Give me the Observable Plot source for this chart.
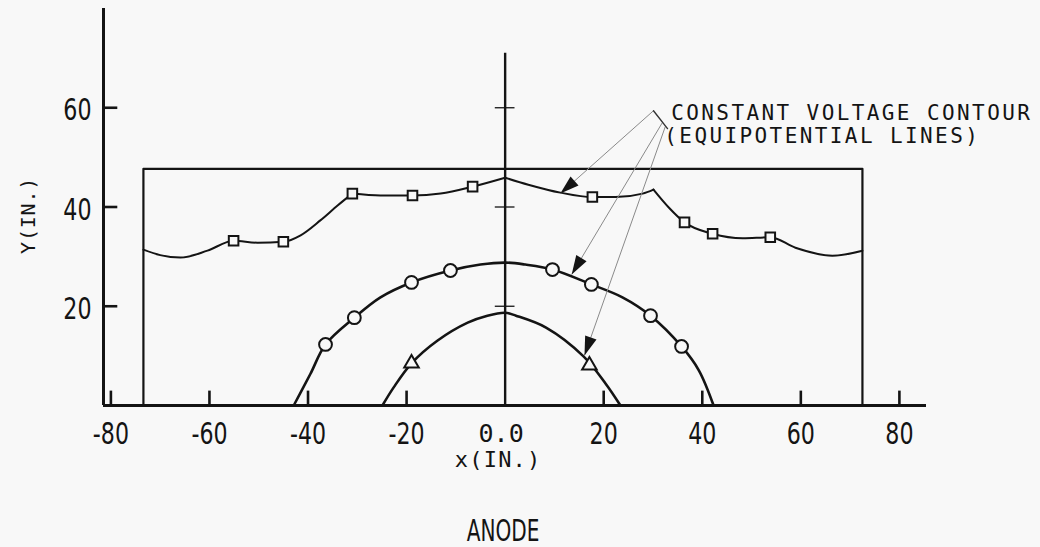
<!DOCTYPE html>
<html>
<head>
<meta charset="utf-8">
<script src="https://cdn.jsdelivr.net/npm/d3@7"></script>
<script src="https://cdn.jsdelivr.net/npm/@observablehq/plot@0.6"></script>
<style>
  html, body { margin: 0; padding: 0; background: #f8f8f8; }
</style>
</head>
<body>
<div id="chart"></div>
<script>
// ---- data ----
const xDomain = [-81.5, 85.5];
const yDomain = [0, 80];
const xTicks = [-80, -60, -40, -20, 20, 40, 60, 80];
const yTicks = [20, 40, 60];
const centerCrossY = [20, 40, 60];

// enclosing electrode box (open at bottom, the x axis closes it)
const boxOutline = [[-73.4, 0], [-73.4, 47.7], [72.5, 47.7], [72.5, 0]];

// outer contour (squares), drawn in four smooth pieces joined at cusps
const squareSegA = [[-73.4, 31.4], [-70.0, 30.3], [-65.9, 29.8], [-60.4, 31.2], [-55.1, 33.2], [-50.25, 32.8], [-45.0, 33.0], [-41.5, 34.3], [-37.5, 37.3], [-34.0, 40.3], [-31.0, 42.7]];
const squareSegB = [[-31.0, 42.7], [-25.3, 42.3], [-18.8, 42.3], [-13.1, 42.7], [-6.6, 44.1], [0, 45.9]];
const squareSegC = [[0, 45.9], [4.7, 44.5], [11.2, 42.9], [17.7, 42.0], [22.4, 42.0], [27.9, 42.7], [30.1, 43.5]];
const squareSegD = [[30.1, 43.5], [33.2, 39.9], [36.4, 36.9], [42.1, 34.6], [48.2, 33.7], [53.8, 33.9], [58.9, 31.8], [66.4, 30.2], [72.5, 31.2]];
const squareMarkers = [[-55.1, 33.2], [-45.0, 33.0], [-31.0, 42.7], [-18.8, 42.3], [-6.6, 44.1], [17.7, 42.0], [36.4, 36.9], [42.1, 34.6], [53.8, 33.9]];

// middle contour (circles)
const circleCurve = [[-42.9, 0], [-39.5, 6.4], [-36.45, 12.3], [-30.6, 17.7], [-25.3, 21.8], [-19.0, 24.8], [-11.1, 27.2], [-5.0, 28.4], [0, 28.8], [4.1, 28.4], [9.6, 27.4], [17.5, 24.4], [23.8, 21.8], [29.5, 18.1], [35.8, 11.9], [39.3, 7.1], [42.3, 0]];
const circleMarkers = [[-36.45, 12.3], [-30.6, 17.7], [-19.0, 24.8], [-11.1, 27.2], [9.6, 27.4], [17.5, 24.4], [29.5, 18.1], [35.8, 11.9]];

// inner contour (triangles)
const triangleCurve = [[-24.9, 0], [-22.65, 3.6], [-19.0, 8.5], [-13.7, 13.1], [-7.6, 16.7], [-3.6, 18.1], [0, 18.7], [2.2, 18.1], [8.3, 15.7], [15.9, 9.9], [20.4, 4.4], [23.4, 0]];
const triangleMarkers = [[-19.0, 8.5], [17.1, 8.1]];

// annotation leader lines
const leaderStarts = [[30.1, 59.4], [31.9, 57.0], [32.5, 56.2]];
const leaderTips = [[11.2, 42.7], [13.5, 26.4], [16.1, 10.1]];
const leaderBracket = [[30.1, 59.4], [32.95, 55.8]];

const annotationLines = ["CONSTANT VOLTAGE CONTOUR", "(EQUIPOTENTIAL LINES)"];
const annotationPos = [[33.7, 57.6], [32.3, 52.8]];

// ---- styling ----
const ink = "#141414";
const bg = "#f8f8f8";
const narrow = "'Liberation Sans Narrow', 'DejaVu Sans Condensed', sans-serif";
const mono = "'DejaVu Sans Mono', monospace";

const W = 1040, H = 547;
const mL = 103, mR = 114, mT = 8, mB = 142;

// pixel mapping mirroring the Plot scales, used only for arrowhead angles
const xs = d3.scaleLinear(xDomain, [mL, W - mR]);
const ys = d3.scaleLinear(yDomain, [H - mB, mT]);

const squarePath = [
  ...squareSegA.map(p => ({x: p[0], y: p[1], seg: "A"})),
  ...squareSegB.map(p => ({x: p[0], y: p[1], seg: "B"})),
  ...squareSegC.map(p => ({x: p[0], y: p[1], seg: "C"})),
  ...squareSegD.map(p => ({x: p[0], y: p[1], seg: "D"}))
];

const leaders = leaderStarts.map((s, i) => {
  const t = leaderTips[i];
  const dx = xs(t[0]) - xs(s[0]);
  const dy = ys(t[1]) - ys(s[1]);
  return {x1: s[0], y1: s[1], x2: t[0], y2: t[1], angle: Math.atan2(dx, -dy) * 180 / Math.PI};
});

// filled wedge arrowhead, tip at the origin, pointing up before rotation
const wedge = {
  draw(context) {
    context.moveTo(0, 0);
    context.lineTo(6, 19);
    context.lineTo(-6, 19);
    context.closePath();
  }
};

const px = d => d[0], py = d => d[1];

const plot = Plot.plot({
  width: W,
  height: H,
  marginLeft: mL,
  marginRight: mR,
  marginTop: mT,
  marginBottom: mB,
  x: {domain: xDomain, axis: null},
  y: {domain: yDomain, axis: null},
  style: {background: bg, color: ink, overflow: "visible"},
  marks: [
    // box
    Plot.line(boxOutline, {x: px, y: py, stroke: ink, strokeWidth: 2.2, curve: "linear"}),
    // center line with crosses
    Plot.ruleX([0], {y1: 0, y2: 71, stroke: ink, strokeWidth: 2.4}),
    Plot.ruleY(centerCrossY, {x1: -2, x2: 2, stroke: ink, strokeWidth: 1.3}),
    // contours
    Plot.line(squarePath, {x: "x", y: "y", z: "seg", curve: "monotone-x", stroke: ink, strokeWidth: 2}),
    Plot.line(circleCurve, {x: px, y: py, curve: "catmull-rom", stroke: ink, strokeWidth: 2.6}),
    Plot.line(triangleCurve, {x: px, y: py, curve: "catmull-rom", stroke: ink, strokeWidth: 2.6}),
    // markers
    Plot.dot(squareMarkers, {x: px, y: py, symbol: "square", r: 5.4, fill: bg, stroke: ink, strokeWidth: 2}),
    Plot.dot(circleMarkers, {x: px, y: py, symbol: "circle", r: 6.4, fill: bg, stroke: ink, strokeWidth: 2}),
    Plot.dot(triangleMarkers, {x: px, y: py, symbol: "triangle", r: 5.4, fill: bg, stroke: ink, strokeWidth: 2}),
    // leader lines + arrowheads
    Plot.link(leaders, {x1: "x1", y1: "y1", x2: "x2", y2: "y2", stroke: "#8a8a8a", strokeWidth: 1}),
    Plot.line(leaderBracket, {x: px, y: py, stroke: "#333", strokeWidth: 1.4}),
    Plot.dot(leaders, {x: "x2", y: "y2", symbol: wedge, rotate: "angle", fill: ink, stroke: "none"}),
    // axes
    Plot.ruleX([xDomain[0]], {y1: 0, y2: 80, stroke: ink, strokeWidth: 3}),
    Plot.ruleY([0], {x1: xDomain[0], x2: xDomain[1], stroke: ink, strokeWidth: 3}),
    Plot.ruleX(xTicks, {x: d => d, y1: 0, y2: 2.9, stroke: ink, strokeWidth: 2.6}),
    Plot.ruleY(yTicks, {y: d => d, x1: xDomain[0], x2: xDomain[0] + 2.9, stroke: ink, strokeWidth: 2.6}),
    Plot.text(xTicks, {x: d => d, y: 0, text: d => String(d), dy: 17, lineAnchor: "top", fontSize: 30, fontFamily: narrow, fill: ink}),
    Plot.text(yTicks, {x: xDomain[0], y: d => d, text: d => String(d), dx: -12, dy: 3, textAnchor: "end", lineAnchor: "middle", fontSize: 30, fontFamily: narrow, fill: ink}),
    Plot.text(["0.0"], {x: 0, y: 0, dx: -4, dy: 19, lineAnchor: "top", fontSize: 25, fontFamily: mono, fill: ink}),
    Plot.text(["x(IN.)"], {x: 0, y: 0, dx: -7, dy: 61, lineAnchor: "bottom", fontSize: 22, fontFamily: mono, fill: ink}),
    Plot.text(["Y(IN.)"], {x: -96.8, y: 38.3, rotate: -90, textAnchor: "middle", lineAnchor: "middle", fontSize: 20, fontFamily: mono, fill: ink}),
    Plot.text(["ANODE"], {x: 0, y: 0, dx: -2, dy: 135, lineAnchor: "bottom", fontSize: 31, fontFamily: narrow, fill: ink}),
    // annotation
    Plot.text(annotationLines, {x: (d, i) => annotationPos[i][0], y: (d, i) => annotationPos[i][1], text: d => d, textAnchor: "start", lineAnchor: "bottom", fontSize: 21, fontFamily: mono, fill: ink})
  ]
});

document.getElementById("chart").appendChild(plot);

// typographic finishing: narrow tick/ANODE lettering, spaced typewriter lettering
const squash = {"ANODE": 0.72};
const spacing = {"Y(IN.)": 0.8, "x(IN.)": 1.2, "0.0": 0};
spacing[annotationLines[0]] = 2.4;
spacing[annotationLines[1]] = 2.4;
d3.select(plot).selectAll("text").each(function() {
  const t = this.textContent;
  const fam = (this.closest("g[font-family]") || {getAttribute: () => ""}).getAttribute("font-family") || "";
  if (fam.includes("Narrow")) {
    const f = squash[t] != null ? squash[t] : 0.82;
    const len = this.getComputedTextLength();
    this.setAttribute("textLength", (len * f).toFixed(1));
    this.setAttribute("lengthAdjust", "spacingAndGlyphs");
  } else if (spacing[t] != null) {
    this.setAttribute("letter-spacing", spacing[t]);
  }
});
</script>
</body>
</html>
